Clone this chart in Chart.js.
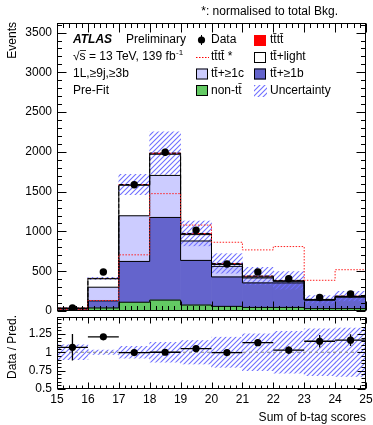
<!DOCTYPE html>
<html><head><meta charset="utf-8">
<script src="https://cdn.jsdelivr.net/npm/chart.js@4.4.1/dist/chart.umd.min.js"></script>
<style>
html,body{margin:0;padding:0;background:#fff;}
#wrap{position:relative;width:373px;height:425px;overflow:hidden;background:#fff;}
canvas{position:absolute;left:0;}
#main{top:0;}
#ratio{top:313px;}
</style></head><body>
<div id="wrap"><canvas id="main" width="373" height="315"></canvas><canvas id="ratio" width="373" height="112"></canvas></div>
<script>
// ---------- data ----------
const binEdges  = [15,16,17,18,19,20,21,22,23,24,25];
const nonTT     = [12, 38, 110, 137,  75,  58,  45,  45,  30,  30];
const ttB       = [18, 89, 513,1039, 561, 370, 308, 308, 106, 144];
const ttC       = [ 3,172, 574, 528, 244, 133,  62,  20,   5,   6];
const ttLight   = [ 2,106, 383, 266,  80,  24,  12,   5,   2,   3];
const tttt      = [ 1,  5,  10,  15,  15,  13,  12,   7,   4,   4];
const ttttNorm  = [20,132, 706,1475,1080, 864, 768, 810, 386, 519];
const dataVals  = [38,490,1587,1995,1017, 590, 490, 405, 170, 215];
const dataErr   = [ 6, 22,  40,  45,  32,  24,  22,  20,  13,  15];
const uncRel    = [0.10,0.03,0.08,0.135,0.16,0.205,0.25,0.285,0.32,0.33];
const ratioVals = [1.067,1.21,0.996,1.0,1.05,0.996,1.13,1.03,1.15,1.165];
const ratioErr  = [0.18,0.03,0.025,0.022,0.03,0.04,0.045,0.05,0.085,0.08];
const xTickVals = [15,16,17,18,19,20,21,22,23,24,25];
const yTicksMain  = [0,500,1000,1500,2000,2500,3000,3500];
const yTicksRatio = [0.5,0.75,1,1.25];
const yTickLabelsRatio = ['0.5','0.75','1','1.25'];
const legendLabels = {data:'Data', norm:'t\u0074\u0304t\u0074\u0304 *', tttt:'t\u0074\u0304t\u0074\u0304', light:'t\u0074\u0304+light',
  c:'t\u0074\u0304+\u22651c', b:'t\u0074\u0304+\u22651b', non:'non-t\u0074\u0304', unc:'Uncertainty'};

// ---------- styling ----------
const FONT = '"Liberation Sans", Arial, Helvetica, sans-serif';
const C_GREEN='#63c963', C_B='#6464cc', C_C='#ccccff', C_LIGHT='#ffffff', C_TTTT='#ff0000';
function hatch(){
  const c=document.createElement('canvas'); c.width=5; c.height=5;
  const g=c.getContext('2d'); g.strokeStyle='#6f6fff'; g.lineWidth=1.1;
  g.beginPath(); g.moveTo(0,5); g.lineTo(5,0); g.moveTo(-1,1); g.lineTo(1,-1); g.moveTo(4,6); g.lineTo(6,4); g.stroke();
  return document.createElement('canvas').getContext('2d').createPattern(c,'repeat');
}
const HATCH = hatch();

const centers = binEdges.slice(0,-1).map((e,i)=>(e+binEdges[i+1])/2);
const comps = [nonTT, ttB, ttC, ttLight, tttt];
const cum=[]; let run=nonTT.map(()=>0);
comps.forEach(a=>{ run=run.map((v,i)=>v+a[i]); cum.push(run.slice()); });
const total = cum[cum.length-1];
const stepPts = vals => { const p=vals.map((v,i)=>({x:binEdges[i],y:v})); p.push({x:binEdges[binEdges.length-1],y:vals[vals.length-1]}); return p; };
const barPts = vals => centers.map((c,i)=>({x:c,y:vals[i]}));

const rootFrame = {
  id:'rootFrame',
  afterDraw(chart, args, o){
    const {ctx, chartArea:a, scales:{x,y}} = chart;
    ctx.save(); ctx.strokeStyle='#000'; ctx.lineWidth=1;
    const L=Math.round(a.left)+0.5, R=Math.round(a.right)-0.5, T=Math.round(a.top)+0.5, B=Math.round(a.bottom)-0.5;
    ctx.beginPath();
    const nx=Math.round((x.max-x.min)/o.xMinor);
    for(let k=0;k<=nx;k++){
      const v=x.min+k*o.xMinor; const px=Math.round(x.getPixelForValue(v))+0.5;
      const q=v/o.xMajor; const major=Math.abs(q-Math.round(q))<1e-6; const len=major?o.xMaj:o.xMin;
      ctx.moveTo(px,B); ctx.lineTo(px,B-len); ctx.moveTo(px,T); ctx.lineTo(px,T+len);
    }
    const ny=Math.floor((y.max-y.min)/o.yMinor+1e-6);
    for(let k=0;k<=ny;k++){
      const v=y.min+k*o.yMinor; const py=Math.round(y.getPixelForValue(v))+0.5;
      const q=(v-o.yOrigin)/o.yMajor; const major=Math.abs(q-Math.round(q))<1e-6; const len=major?o.yMaj:o.yMin;
      ctx.moveTo(L,py); ctx.lineTo(L+len,py); ctx.moveTo(R,py); ctx.lineTo(R-len,py);
    }
    ctx.stroke();
    ctx.strokeRect(L,T,R-L,B-T);
    ctx.restore();
  }
};

function txt(ctx,s,x,y,font,align){ ctx.font=font; ctx.textAlign=align||'left'; ctx.fillText(s,x,y); }
const noPad = s => { s.paddingTop=0; s.paddingBottom=0; s.paddingLeft=0; s.paddingRight=0; };

const mainDecor = {
  id:'mainDecor',
  afterDatasetsDraw(chart){
    const {ctx, scales:{x,y}} = chart;
    ctx.save(); ctx.strokeStyle='#000'; ctx.lineWidth=1.3; ctx.beginPath();
    centers.forEach((c,i)=>{ const px=x.getPixelForValue(c);
      ctx.moveTo(px,y.getPixelForValue(dataVals[i]-dataErr[i])); ctx.lineTo(px,y.getPixelForValue(dataVals[i]+dataErr[i])); });
    ctx.stroke(); ctx.restore();
  },
  afterDraw(chart){
    const ctx=chart.ctx; ctx.save(); ctx.fillStyle='#000'; ctx.textBaseline='middle';
    const F12='12px '+FONT;
    txt(ctx,'*: normalised to total Bkg.',338,11.5,F12,'right');
    ctx.save(); ctx.translate(13,22); ctx.rotate(-Math.PI/2); txt(ctx,'Events',0,0,F12,'right'); ctx.restore();
    txt(ctx,'ATLAS',73,39.5,'bold italic 12px '+FONT);
    txt(ctx,'Preliminary',126,39.5,F12);
    txt(ctx,'\u221As = 13 TeV, 139 fb',73,57,F12);
    const w=ctx.measureText('\u221As = 13 TeV, 139 fb').width;
    txt(ctx,'-1',73+w+0.5,53,'8px '+FONT);
    ctx.strokeStyle='#000'; ctx.lineWidth=0.8; ctx.beginPath(); ctx.moveTo(80,50.5); ctx.lineTo(86,50.5); ctx.stroke();
    txt(ctx,'1L,\u22659j,\u22653b',73,74,F12);
    txt(ctx,'Pre-Fit',73,90.5,F12);
    ctx.beginPath(); ctx.arc(201.5,40,3.6,0,2*Math.PI); ctx.fill();
    ctx.lineWidth=1; ctx.beginPath(); ctx.moveTo(201.5,35); ctx.lineTo(201.5,45); ctx.stroke();
    txt(ctx,legendLabels.data,211,40,F12);
    ctx.save(); ctx.strokeStyle='#ff0000'; ctx.setLineDash([1.5,1.5]); ctx.beginPath(); ctx.moveTo(196,57.5); ctx.lineTo(209,57.5); ctx.stroke(); ctx.restore();
    txt(ctx,legendLabels.norm,211,57,F12);
    const box=(x0,y0,fill,stroke)=>{ ctx.fillStyle=fill; ctx.fillRect(x0,y0,12,11); if(stroke){ctx.strokeStyle=stroke; ctx.lineWidth=1; ctx.strokeRect(x0+0.5,y0+0.5,11,10);} ctx.fillStyle='#000'; };
    box(196,68.5,C_C,'#000'); txt(ctx,legendLabels.c,211,74,F12);
    box(196,85,C_GREEN,'#000'); txt(ctx,legendLabels.non,211,90.5,F12);
    box(254,35,C_TTTT,'#ff0000'); txt(ctx,legendLabels.tttt,270,40,F12);
    box(254,52,C_LIGHT,'#000'); txt(ctx,legendLabels.light,270,57,F12);
    box(254,68.5,C_B,'#000'); txt(ctx,legendLabels.b,270,74,F12);
    ctx.fillStyle=HATCH; ctx.fillRect(254,85,13,12); ctx.fillStyle='#000';
    txt(ctx,legendLabels.unc,270,90.5,F12);
    ctx.restore();
  }
};

const barDS = (label,vals,color)=>({type:'bar',label,data:barPts(vals),backgroundColor:color,borderWidth:0,
  stack:'bkg',grouped:false,barPercentage:1,categoryPercentage:1,order:10});
const stepDS = (vals,color,dash,id,order,width)=>({type:'line',data:stepPts(vals),stepped:'before',borderColor:color,
  borderWidth:width||1,borderDash:dash||[],pointRadius:0,fill:false,stack:id,order:order||4});

new Chart(document.getElementById('main'),{
  data:{datasets:[
    barDS('non-tt',nonTT,C_GREEN),
    barDS('tt+>=1b',ttB,C_B),
    barDS('tt+>=1c',ttC,C_C),
    barDS('tt+light',ttLight,C_LIGHT),
    barDS('tttt',tttt,C_TTTT),
    {type:'bar',label:'Uncertainty',data:centers.map((c,i)=>({x:c,y:[total[i]*(1-uncRel[i]),total[i]*(1+uncRel[i])]})),
      backgroundColor:HATCH,borderWidth:0,stack:'unc',grouped:false,barPercentage:1,categoryPercentage:1,order:6},
    stepDS(cum[0],'#000',[], 's0'),
    stepDS(cum[1],'#000',[], 's1'),
    stepDS(cum[2],'#000',[], 's2'),
    stepDS(cum[3],'#000',[], 's3'),
    stepDS(total,'#000',[4,2],'s4'),
    stepDS(ttttNorm,'#ff2020',[1.5,1.5],'norm',3),
    {type:'line',label:'Data',data:barPts(dataVals),showLine:false,pointRadius:3.7,pointBackgroundColor:'#000',
      pointBorderWidth:0,stack:'data',order:1}
  ]},
  options:{
    responsive:false, animation:false, devicePixelRatio:1,
    layout:{padding:{top:23,right:7,bottom:2,left:0}},
    plugins:{legend:{display:false},tooltip:{enabled:false},
      rootFrame:{xMinor:0.2,xMajor:1,xMaj:9,xMin:4.5,yMinor:100,yMajor:500,yOrigin:0,yMaj:9,yMin:4.5}},
    scales:{
      x:{type:'linear',min:15,max:25,offset:false,display:false,
         afterBuildTicks:s=>{s.ticks=xTickVals.map(v=>({value:v}));}},
      y:{type:'linear',min:0,max:3620,stacked:true,
         afterBuildTicks:s=>{s.ticks=yTicksMain.map(v=>({value:v}));},
         afterFit:s=>{s.width=57; noPad(s);},
         grid:{display:false,drawTicks:false},border:{display:false},
         ticks:{padding:5,color:'#000',font:{family:FONT,size:12},callback:v=>String(v)}}
    }
  },
  plugins:[rootFrame,mainDecor]
});

const ratioDecor = {
  id:'ratioDecor',
  afterDatasetsDraw(chart){
    const {ctx, scales:{x,y}} = chart;
    ctx.save(); ctx.strokeStyle='#000'; ctx.lineWidth=1.3; ctx.beginPath();
    centers.forEach((c,i)=>{ const py=y.getPixelForValue(ratioVals[i]); const px=x.getPixelForValue(c);
      ctx.moveTo(x.getPixelForValue(binEdges[i]),py); ctx.lineTo(x.getPixelForValue(binEdges[i+1]),py);
      ctx.moveTo(px,y.getPixelForValue(ratioVals[i]-ratioErr[i])); ctx.lineTo(px,y.getPixelForValue(ratioVals[i]+ratioErr[i])); });
    ctx.stroke(); ctx.restore();
  },
  afterDraw(chart){
    const ctx=chart.ctx; ctx.save(); ctx.fillStyle='#000'; ctx.textBaseline='middle';
    ctx.translate(13,2); ctx.rotate(-Math.PI/2); txt(ctx,'Data / Pred.',0,0,'12px '+FONT,'right'); ctx.restore();
  }
};

new Chart(document.getElementById('ratio'),{
  data:{datasets:[
    {type:'bar',label:'Uncertainty',data:centers.map((c,i)=>({x:c,y:[1-uncRel[i],1+uncRel[i]]})),
      backgroundColor:HATCH,borderWidth:0,grouped:false,barPercentage:1,categoryPercentage:1,order:6},
    {type:'line',data:[{x:15,y:1},{x:25,y:1}],borderColor:'#888',borderWidth:1,borderDash:[3,3],pointRadius:0,order:5},
    {type:'line',label:'Data',data:barPts(ratioVals),showLine:false,pointRadius:3.6,pointBackgroundColor:'#000',pointBorderWidth:0,order:1}
  ]},
  options:{
    responsive:false, animation:false, devicePixelRatio:1,
    layout:{padding:{top:2,right:7,bottom:0,left:0}},
    plugins:{legend:{display:false},tooltip:{enabled:false},
      rootFrame:{xMinor:0.2,xMajor:1,xMaj:6,xMin:3,yMinor:0.05,yMajor:0.25,yOrigin:0.5,yMaj:8,yMin:4}},
    scales:{
      x:{type:'linear',min:15,max:25,offset:false,
         afterBuildTicks:s=>{s.ticks=xTickVals.map(v=>({value:v}));},
         afterFit:s=>{s.height=36; noPad(s);},
         grid:{display:false,drawTicks:false},border:{display:false},
         ticks:{padding:3,color:'#000',maxRotation:0,autoSkip:false,font:{family:FONT,size:12},callback:v=>String(v)},
         title:{display:true,text:'Sum of b-tag scores',align:'end',color:'#000',font:{family:FONT,size:12},padding:{top:0,bottom:0}}},
      y:{type:'linear',min:0.5,max:1.48,
         afterBuildTicks:s=>{s.ticks=yTicksRatio.map(v=>({value:v}));},
         afterFit:s=>{s.width=57; noPad(s);},
         grid:{display:false,drawTicks:false},border:{display:false},
         ticks:{padding:5,color:'#000',font:{family:FONT,size:12},callback:(v,i)=>yTickLabelsRatio[i]}}
    }
  },
  plugins:[rootFrame,ratioDecor]
});
</script></body></html>
